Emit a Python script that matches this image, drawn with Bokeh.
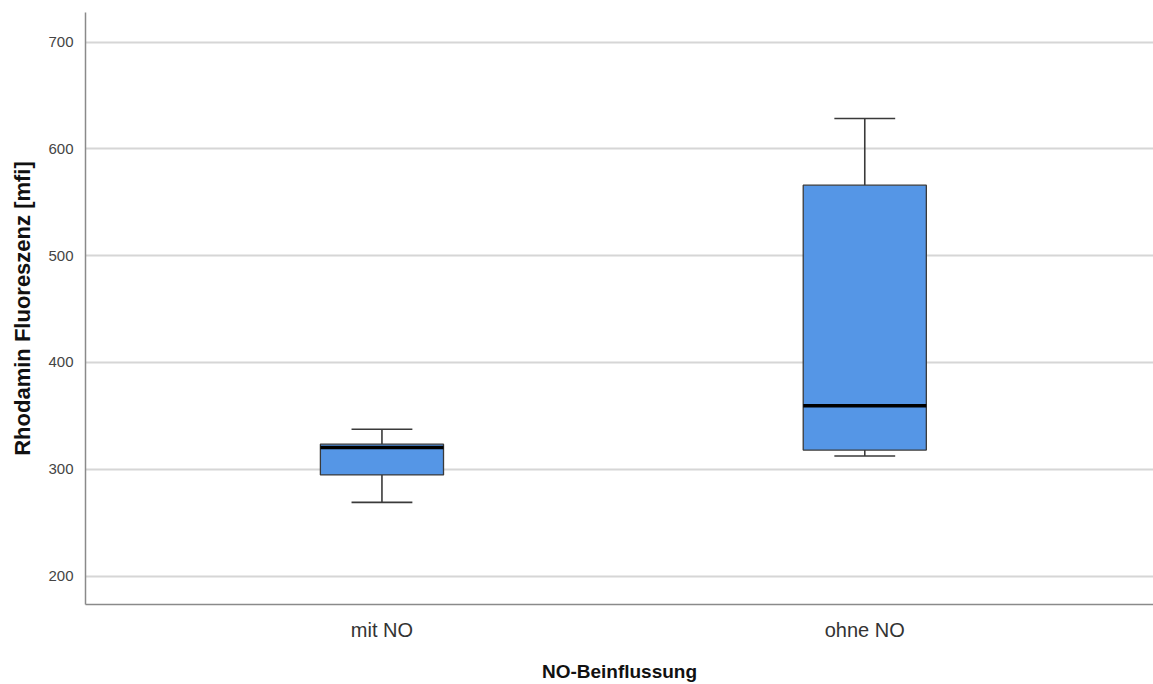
from bokeh.plotting import figure
from bokeh.models import Range1d, FixedTicker, ColumnDataSource
from bokeh.embed import file_html
from bokeh.resources import INLINE

# Box plot summary per group
groups = ["mit NO", "ohne NO"]
whisker_low = [269.0, 312.5]
q1 = [294.7, 318.0]
median = [320.5, 359.5]
q3 = [323.5, 566.0]
whisker_high = [337.5, 628.5]
y_ticks = [200, 300, 400, 500, 600, 700]

positions = [i + 1 for i in range(len(groups))]
box_w = 0.255
cap_w = 0.126

src = ColumnDataSource(dict(
    x=positions,
    lo=whisker_low, q1=q1, med=median, q3=q3, hi=whisker_high,
    box_l=[x - box_w / 2 for x in positions],
    box_r=[x + box_w / 2 for x in positions],
    cap_l=[x - cap_w / 2 for x in positions],
    cap_r=[x + cap_w / 2 for x in positions],
))

p = figure(width=1153, height=684, output_backend="svg", toolbar_location=None,
           x_range=Range1d(0.386, 2.598), y_range=Range1d(173.4, 727.7),
           min_border_left=85, min_border_right=0, min_border_top=12,
           min_border_bottom=79)
p.outline_line_color = None
p.background_fill_color = "white"

# grid
p.xgrid.grid_line_color = None
p.ygrid.grid_line_color = "#d6d6d6"
p.ygrid.grid_line_width = 2
p.yaxis.ticker = FixedTicker(ticks=y_ticks)
p.xaxis.ticker = FixedTicker(ticks=positions)
p.xaxis.major_label_overrides = {x: g for x, g in zip(positions, groups)}

for ax in (p.xaxis, p.yaxis):
    ax.axis_line_color = "#8a8a8a"
    ax.axis_line_width = 1.5
    ax.major_tick_line_color = None
    ax.minor_tick_line_color = None

p.yaxis.major_label_text_font = "Liberation Sans"
p.yaxis.major_label_text_font_size = "15px"
p.yaxis.major_label_text_color = "#444444"
p.yaxis.major_label_standoff = 6
p.yaxis.axis_label = "Rhodamin Fluoreszenz [mfi]"
p.yaxis.axis_label_text_font = "Liberation Sans"
p.yaxis.axis_label_text_font_style = "bold"
p.yaxis.axis_label_text_font_size = "22px"
p.yaxis.axis_label_text_color = "#111111"
p.yaxis.axis_label_standoff = 10

p.xaxis.major_label_text_font = "Liberation Sans"
p.xaxis.major_label_text_font_size = "20px"
p.xaxis.major_label_text_color = "#333333"
p.xaxis.major_label_standoff = 8
p.xaxis.axis_label = "NO-Beinflussung"
p.xaxis.axis_label_text_font = "Liberation Sans"
p.xaxis.axis_label_text_font_style = "bold"
p.xaxis.axis_label_text_font_size = "19px"
p.xaxis.axis_label_text_color = "#111111"
p.xaxis.axis_label_standoff = 17

# whiskers
p.segment(x0="x", y0="q3", x1="x", y1="hi", source=src, line_color="#3a3a3a", line_width=1.6)
p.segment(x0="x", y0="lo", x1="x", y1="q1", source=src, line_color="#3a3a3a", line_width=1.6)
p.segment(x0="cap_l", y0="hi", x1="cap_r", y1="hi", source=src, line_color="#3a3a3a", line_width=1.6)
p.segment(x0="cap_l", y0="lo", x1="cap_r", y1="lo", source=src, line_color="#3a3a3a", line_width=1.6)

# boxes
p.quad(left="box_l", right="box_r", bottom="q1", top="q3", source=src,
       fill_color="#5596e6", line_color="#3a3a3a", line_width=1.3)

# median
p.segment(x0="box_l", y0="med", x1="box_r", y1="med", source=src,
          line_color="#000000", line_width=3.5)

open("out.html", "w").write(file_html(p, INLINE))
